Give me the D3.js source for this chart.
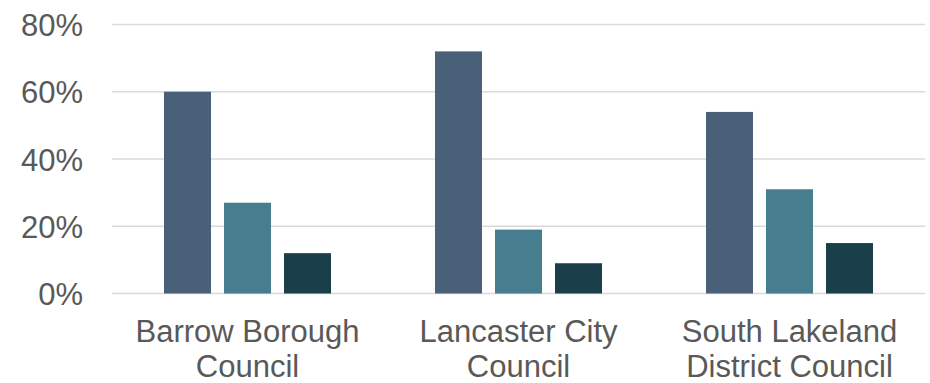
<!DOCTYPE html>
<html>
<head>
<meta charset="utf-8">
<script src="https://cdn.jsdelivr.net/npm/d3@7"></script>
<style>
  html, body { margin: 0; padding: 0; background: #ffffff; }
  svg { display: block; }
</style>
</head>
<body>
<svg id="chart" width="930" height="383"></svg>
<script>
// Share of responses per council, three series each
const categories = [["Barrow Borough", "Council"], ["Lancaster City", "Council"], ["South Lakeland", "District Council"]];
const seriesNames = ["Series 1", "Series 2", "Series 3"];
const series1 = [60, 72, 54];
const series2 = [27, 19, 31];
const series3 = [12, 9, 15];
const yTicks = [0, 20, 40, 60, 80];
const colors = ["#4a6079", "#467d8f", "#1a3f4a"];

const svg = d3.select("#chart");
const plotLeft = 112, plotRight = 925, plotTop = 24.5, plotBottom = 293.5;
const textColor = "#595959";
const fontSize = 31;
const fontFamily = "'Liberation Sans', Arial, sans-serif";

const x0 = d3.scaleBand().domain(d3.range(categories.length)).range([plotLeft, plotRight]).padding(0);
const x1 = d3.scaleBand().domain(d3.range(seriesNames.length)).range([0, x0.bandwidth()])
  .paddingInner(0.2167).paddingOuter(0.8667);
const y = d3.scaleLinear().domain([0, 80]).range([plotBottom, plotTop]);

// Horizontal gridlines
svg.append("g").selectAll("line").data(yTicks).join("line")
  .attr("x1", plotLeft).attr("x2", plotRight)
  .attr("y1", d => y(d)).attr("y2", d => y(d))
  .attr("stroke", "#d9d9d9").attr("stroke-width", 1.5);

// Y axis labels
const yAxis = svg.append("g").attr("transform", `translate(${plotLeft},0)`)
  .call(d3.axisLeft(y).tickValues(yTicks).tickFormat(d => d + "%").tickSize(0).tickPadding(29));
yAxis.select(".domain").remove();
yAxis.selectAll("text")
  .attr("dy", "0.36em")
  .attr("fill", textColor)
  .style("font-family", fontFamily)
  .style("font-size", fontSize + "px");

// Bars
const values = [series1, series2, series3];
const groups = svg.append("g").selectAll("g").data(categories).join("g")
  .attr("transform", (d, i) => `translate(${x0(i)},0)`);
groups.selectAll("rect").data((d, i) => values.map((s, k) => ({ k, v: s[i] }))).join("rect")
  .attr("x", d => x1(d.k))
  .attr("width", x1.bandwidth())
  .attr("y", d => y(d.v))
  .attr("height", d => y(0) - y(d.v))
  .attr("fill", d => colors[d.k]);

// Category labels, two lines each
const labels = svg.append("g").selectAll("text").data(categories).join("text")
  .attr("transform", (d, i) => `translate(${x0(i) + x0.bandwidth() / 2},0)`)
  .attr("text-anchor", "middle")
  .attr("fill", textColor)
  .style("font-family", fontFamily)
  .style("font-size", fontSize + "px");
labels.selectAll("tspan").data(d => d).join("tspan")
  .attr("x", 0)
  .attr("y", (d, j) => 342 + j * 35)
  .text(d => d);
</script>
</body>
</html>
